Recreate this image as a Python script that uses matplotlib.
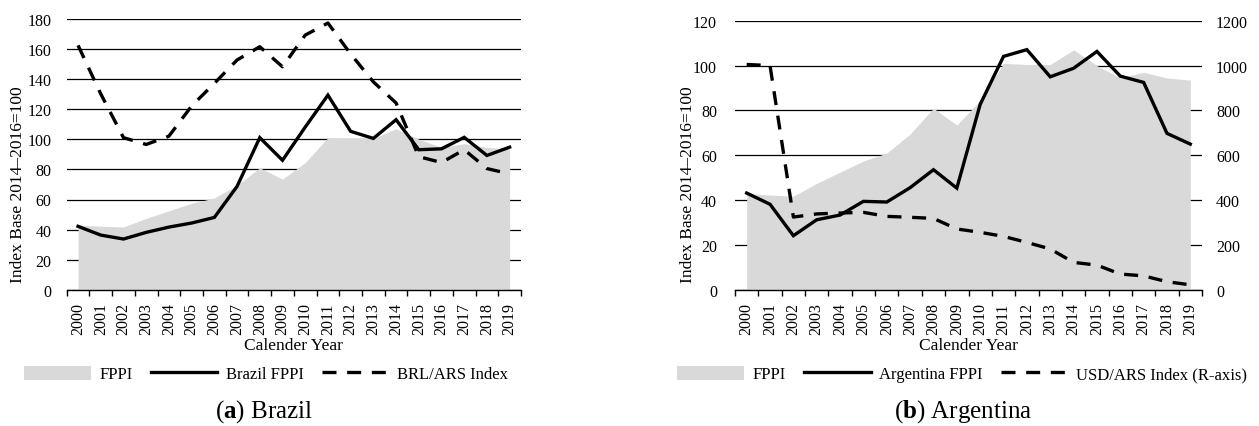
"""
Food price index panels: Brazil and Argentina, 2000-2019.
"""

import matplotlib
matplotlib.use("Agg")
import matplotlib.pyplot as plt
from matplotlib.patches import Patch
from matplotlib.lines import Line2D

plt.rcParams["font.family"] = ["Liberation Serif", "DejaVu Serif"]
plt.rcParams["mathtext.fontset"] = "custom"
plt.rcParams["mathtext.rm"] = "Liberation Serif"
plt.rcParams["mathtext.bf"] = "Liberation Serif:bold"

years = ["2000", "2001", "2002", "2003", "2004", "2005", "2006", "2007", "2008", "2009",
         "2010", "2011", "2012", "2013", "2014", "2015", "2016", "2017", "2018", "2019"]

# world food price index (shaded area, both panels)
fppi = [43, 42.3, 41.8, 47.5, 52.5, 57.5, 61, 69.5, 81, 73.5,
        84.5, 101, 100.5, 100.5, 107, 100, 94.5, 97, 94.5, 93.5]

brazil_fppi = [42.2, 36.4, 33.8, 38.2, 41.7, 44.4, 48.1, 68.7, 101, 86,
               108, 129.2, 105.2, 100.5, 112.9, 93, 93.6, 101.2, 89.2, 94.7]
brl_ars = [162.2, 130, 101, 96.5, 102, 122, 137, 152.5, 161.3, 148,
           169, 177, 156.5, 138, 124, 88.4, 84.5, 93, 80.5, 77]

argentina_fppi = [43.2, 38.2, 24.2, 31.3, 33.4, 39.5, 39.2, 45.6, 53.6, 45.4,
                  82.7, 104.1, 107.1, 95, 98.8, 106.3, 95.3, 92.5, 69.8, 65]
usd_ars = [1005, 1000, 325, 339, 343, 346, 328, 324, 319, 272,
           257, 239, 212, 183, 123, 111, 71, 63, 37, 23]

FILL = "#d9d9d9"
LW = 2.4
DASHES = (4.2, 3.2)
TICK_FS = 11.5
LABEL_FS = 12.5
W, H = 1259, 427


def style_axis(ax, ymax, step):
    """Gridlines, category ticks and spines in the spreadsheet look."""
    n = len(years)
    ax.set_xlim(-0.5, n - 0.5)
    ax.set_ylim(0, ymax)
    ax.set_yticks(range(0, ymax + 1, step))
    for s in ["left", "right", "top"]:
        ax.spines[s].set_visible(False)
    ax.spines["bottom"].set_linewidth(1.0)
    ax.spines["bottom"].set_zorder(4)
    ax.grid(axis="y", color="black", linewidth=0.9, zorder=0)
    ax.set_axisbelow(True)
    # year labels at category centres, tick marks on the boundaries
    ax.set_xticks(range(n))
    ax.set_xticklabels(years, rotation=90, fontsize=TICK_FS)
    ax.set_xticks([i - 0.5 for i in range(n + 1)], minor=True)
    ax.tick_params(axis="x", which="major", length=0, pad=9)
    ax.tick_params(axis="x", which="minor", length=4, width=1.0, direction="out")
    ax.tick_params(axis="y", length=0, labelsize=TICK_FS, pad=11)
    ax.set_xlabel("Calender Year", fontsize=LABEL_FS, labelpad=2)


def panel(rect, series, ymax, ylabel_x):
    ax = fig.add_axes(rect)
    x = range(len(years))
    ax.fill_between(x, fppi, color=FILL, linewidth=0, zorder=1)
    ax.plot(x, series, color="black", linewidth=LW, zorder=3,
            solid_joinstyle="miter")
    style_axis(ax, ymax, 20)
    fig.text(ylabel_x, (H - 185) / H, "Index Base 2014\u20132016=100",
             rotation=90, ha="center", va="center", fontsize=LABEL_FS)
    return ax


def legend(cx, line_label, dash_label):
    handles = [Patch(facecolor=FILL, edgecolor="none"),
               Line2D([], [], color="black", linewidth=LW),
               Line2D([], [], color="black", linewidth=LW, dashes=DASHES)]
    fig.legend(handles, ["FPPI", line_label, dash_label], loc="center",
               bbox_to_anchor=(cx / W, (H - 375) / H), ncol=3, frameon=False,
               fontsize=12, handlelength=4.0, handleheight=0.9,
               handletextpad=0.5, columnspacing=1.1, borderpad=0.2)


fig = plt.figure(figsize=(W / 100, H / 100), dpi=100)

# (a) Brazil
ax1 = panel([66.7 / W, 136 / H, 454.3 / W, 271.5 / H], brazil_fppi, 180, 18 / W)
ax1.plot(range(len(years)), brl_ars, color="black", linewidth=LW,
         dashes=DASHES, zorder=3)

# (b) Argentina, exchange rate on the right axis
ax2 = panel([735 / W, 136 / H, 467 / W, 269.3 / H], argentina_fppi, 120, 688 / W)
ax2.tick_params(axis="y", pad=13)
ax2r = ax2.twinx()
ax2r.plot(range(len(years)), usd_ars, color="black", linewidth=LW,
          dashes=DASHES, zorder=3)
ax2r.set_ylim(0, 1200)
ax2r.set_yticks(range(0, 1201, 200))
ax2r.tick_params(axis="y", length=0, labelsize=TICK_FS, pad=10)
for s in ax2r.spines.values():
    s.set_visible(False)

legend(266, "Brazil FPPI", "BRL/ARS Index")
legend(962, "Argentina FPPI", "USD/ARS Index (R-axis)")

fig.text(264 / W, (H - 412) / H, r"($\mathbf{a}$) Brazil", ha="center",
         va="center", fontsize=18)
fig.text(963 / W, (H - 412) / H, r"($\mathbf{b}$) Argentina", ha="center",
         va="center", fontsize=18)

fig.savefig("out.png", dpi=100)
